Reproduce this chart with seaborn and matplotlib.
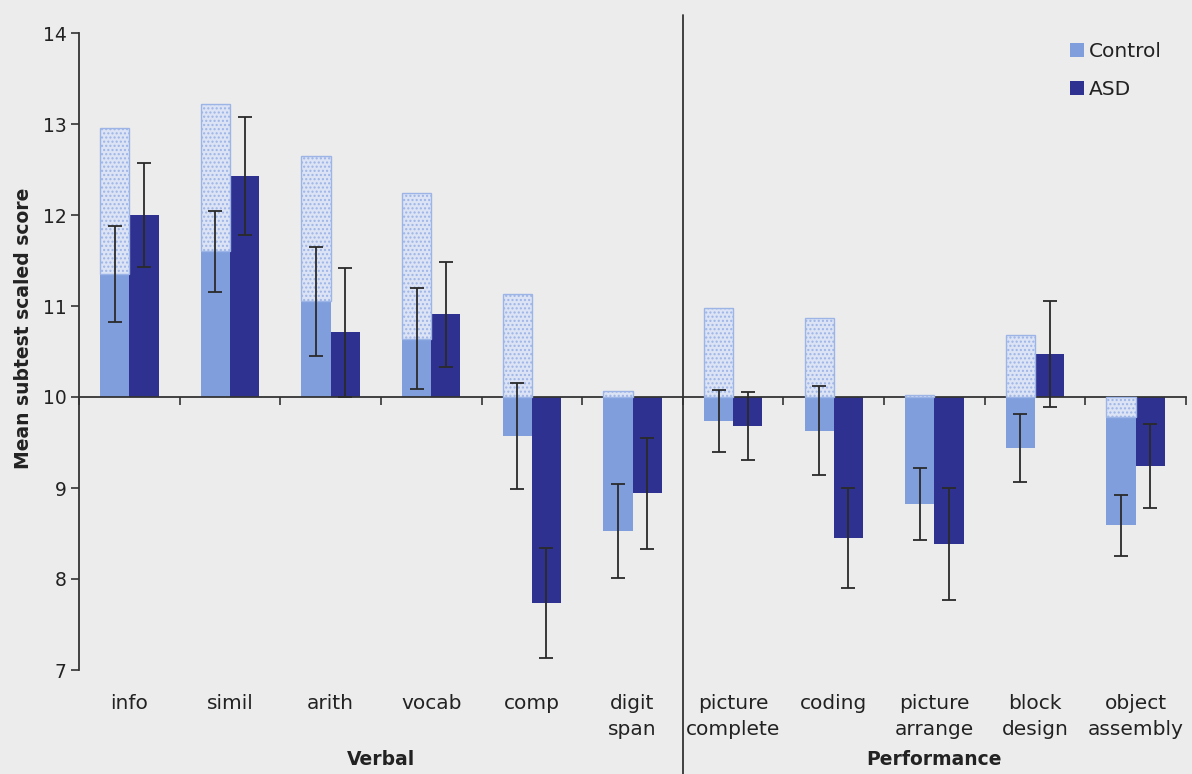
import matplotlib
matplotlib.use("Agg")
import matplotlib.pyplot as plt
import seaborn as sns
import numpy as np
import pandas as pd
from matplotlib.patches import Patch

subtests = ["info", "simil", "arith", "vocab", "comp", "digit\nspan",
            "picture\ncomplete", "coding", "picture\narrange", "block\ndesign",
            "object\nassembly"]
control = [11.35, 11.60, 11.05, 10.64, 9.57, 8.53, 9.74, 9.63, 8.82, 9.44, 8.59]
control_err = [0.525, 0.445, 0.60, 0.555, 0.58, 0.515, 0.34, 0.49, 0.395, 0.375, 0.335]
asd = [12.00, 12.43, 10.71, 10.91, 7.74, 8.94, 9.68, 8.45, 8.38, 10.47, 9.24]
asd_err = [0.575, 0.645, 0.71, 0.575, 0.605, 0.605, 0.37, 0.55, 0.615, 0.58, 0.46]
stipple = [12.96, 13.22, 12.65, 12.24, 11.13, 10.07, 10.98, 10.87, 10.02, 10.68, 9.78]
groups = ["Control", "ASD"]
sections = ["Verbal", "Performance"]
yticks = [7, 8, 9, 10, 11, 12, 13, 14]
BASE = 10

C_CONTROL = "#7f9edb"
C_ASD = "#2e3190"
C_STIP_FACE = "#dbe3f5"
C_STIP_EDGE = "#9db4e6"
BG = "#ececec"
TXT = "#222222"

sns.set_theme(style="white")
plt.rcParams["font.family"] = ["DejaVu Sans"]
plt.rcParams["hatch.color"] = C_STIP_EDGE

df = pd.DataFrame({
    "subtest": subtests * 2,
    "group": ["Control"] * len(subtests) + ["ASD"] * len(subtests),
    "value": control + asd,
})
df["height"] = df["value"] - BASE

fig = plt.figure(figsize=(11.92, 7.74), dpi=100, facecolor=BG)
ax = fig.add_axes([79 / 1192, 1 - 670 / 774, (1186 - 79) / 1192, (670 - 33) / 774])
ax.set_facecolor(BG)

W = 0.58
sns.barplot(data=df, x="subtest", y="height", hue="group", order=subtests,
            hue_order=groups, palette=[C_CONTROL, C_ASD], width=W,
            errorbar=None, bottom=BASE, linewidth=0, legend=False, ax=ax,
            saturation=1, zorder=2)

x = np.arange(len(subtests))
off = W / 4
# stippled comparison bars on the control position
st = np.array(stipple)
cv = np.array(control)
bottoms = np.where(st > BASE, np.maximum(cv, BASE), BASE)
ax.bar(x - off, st - bottoms, bottom=bottoms, width=W / 2, color=C_STIP_FACE,
       edgecolor=C_STIP_EDGE, hatch="....", linewidth=1.0, zorder=3)

ax.errorbar(x - off, control, yerr=control_err, fmt="none", ecolor="#2a2a2a",
            elinewidth=1.3, capsize=4.7, capthick=1.3, zorder=5)
ax.errorbar(x + off, asd, yerr=asd_err, fmt="none", ecolor="#2a2a2a",
            elinewidth=1.3, capsize=4.7, capthick=1.3, zorder=5)

ax.set_xlim(-0.5, len(subtests) - 0.5)
ax.set_ylim(7, 14)
ax.set_yticks(yticks)
ax.set_yticklabels([str(t) for t in yticks], fontsize=13.5, color=TXT)
ax.tick_params(axis="y", direction="out", length=6, width=1.2, color="#333333",
               left=True, pad=3)

for s in ["top", "right"]:
    ax.spines[s].set_visible(False)
ax.spines["left"].set_color("#333333")
ax.spines["left"].set_linewidth(1.3)
ax.spines["bottom"].set_position(("data", BASE))
ax.spines["bottom"].set_color("#333333")
ax.spines["bottom"].set_linewidth(1.3)

ax.set_xticks(np.arange(-0.5, len(subtests), 1.0))
ax.set_xticklabels([])
ax.tick_params(axis="x", direction="out", length=6, width=1.2, color="#333333",
               bottom=True)
ax.set_xlabel("")

sec = ax.secondary_xaxis(0)
sec.set_xticks(x)
sec.set_xticklabels(subtests, fontsize=14.5, color=TXT, linespacing=1.5)
sec.tick_params(axis="x", length=0, pad=17)
sec.spines["bottom"].set_visible(False)

ax.set_ylabel("Mean subtest scaled score", fontsize=13.5, fontweight="bold",
              color=TXT)
ax.yaxis.set_label_coords(-0.042, 0.537)

# divider between verbal and performance subtests
ax.axvline(5.5, ymin=-0.165, ymax=1.028, color="#333333", linewidth=1.3,
           clip_on=False, zorder=1)

ax.text(2.5, -0.141, sections[0], transform=ax.get_xaxis_transform(),
        ha="center", va="center", fontsize=13.5, fontweight="bold", color=TXT)
ax.text(8.0, -0.141, sections[1], transform=ax.get_xaxis_transform(),
        ha="center", va="center", fontsize=13.5, fontweight="bold", color=TXT)

handles = [Patch(facecolor=C_CONTROL, edgecolor="none"),
           Patch(facecolor=C_ASD, edgecolor="none")]
leg = ax.legend(handles, groups, loc="upper right",
                bbox_to_anchor=(1172 / 1192, 1 - 32 / 774),
                bbox_transform=fig.transFigure, frameon=False, fontsize=14.5,
                handlelength=0.7, handleheight=0.7, handletextpad=0.25,
                labelspacing=0.95, borderpad=0, labelcolor=TXT)

fig.savefig("out.png", dpi=100, facecolor=BG)
